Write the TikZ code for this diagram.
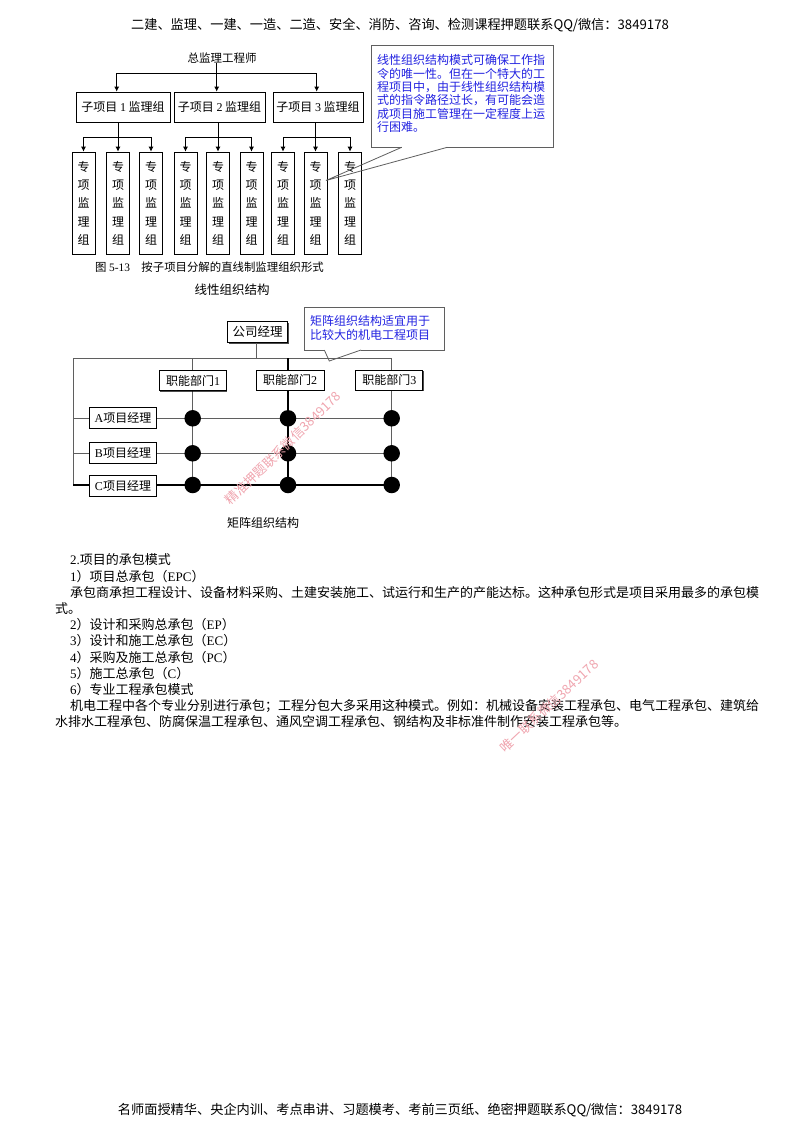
\documentclass[tikz,border=0pt]{standalone}
\usepackage{fontspec}
\setmainfont{Noto Sans CJK SC}
\newfontfamily\ser{Liberation Serif}
\newcommand\myl[1]{{\ser #1}}
\usetikzlibrary{arrows.meta,shadows}
\definecolor{cblue}{RGB}{35,35,225}
\definecolor{wmc}{RGB}{240,165,175}
\definecolor{lgray}{RGB}{95,95,95}
\begin{document}
\begin{tikzpicture}[x=1pt,y=-1pt,
  box/.style={draw=black,line width=0.7pt,fill=white,inner sep=0pt,
    font=\fontsize{12}{14}\selectfont,
    drop shadow={shadow xshift=0.8pt,shadow yshift=-0.8pt,fill=black,opacity=0.7}},
  vbox/.style={box,minimum width=23pt,minimum height=102pt,align=center,
    font=\fontsize{12}{18.3}\selectfont},
  arr/.style={-{Latex[length=5pt,width=5pt]},line width=0.8pt},
  tl/.style={line width=0.8pt},
  ln/.style={line width=0.8pt,draw=lgray},
  thk/.style={line width=1.4pt,draw=black},
  dot/.style={circle,fill=black,minimum size=16.5pt,inner sep=0pt},
  call/.style={draw=lgray,line width=0.8pt},
  ctext/.style={text=cblue,inner sep=0pt,align=left,anchor=north west},
  para/.style={anchor=west,inner sep=0pt,font=\fontsize{13}{15}\selectfont},
  wm/.style={text=wmc,inner sep=0pt,font=\fontsize{13}{15}\selectfont}]
\path[use as bounding box,fill=white] (0,0) rectangle (800,1132);

% header / footer
\node[font=\fontsize{13.2}{16}\selectfont] (hdr) at (400,25) {二建、监理、一建、一造、二造、安全、消防、咨询、检测课程押题联系QQ/微信：3849178};
\node[font=\fontsize{13.2}{16}\selectfont] (ftr) at (400,1110) {名师面授精华、央企内训、考点串讲、习题模考、考前三页纸、绝密押题联系QQ/微信：3849178};

% ---------- tree ----------
\node[inner sep=0pt,font=\fontsize{11.5}{14}\selectfont] (zj) at (222,58) {总监理工程师};
\node[box,minimum width=94pt,minimum height=30pt] (sp1) at (123,107) {子项目 \myl{1} 监理组};
\node[box,minimum width=91pt,minimum height=30pt] (sp2) at (219.5,107) {子项目 \myl{2} 监理组};
\node[box,minimum width=90pt,minimum height=30pt] (sp3) at (318,107) {子项目 \myl{3} 监理组};

\coordinate (t1) at (116.7,73.3);
\coordinate (t2) at (216.7,73.3);
\coordinate (t3) at (316.7,73.3);
\draw[tl] (zj.south -| t2) -- (t2);
\draw[tl] (t1) -- (t3);
\foreach \n in {1,2,3} \draw[arr] (t\n) -- (t\n |- sp\n.north);

\node[vbox] (g1a) at (83.5,203) {专\\项\\监\\理\\组};
\node[vbox] (g1b) at (118,203) {专\\项\\监\\理\\组};
\node[vbox] (g1c) at (151,203) {专\\项\\监\\理\\组};
\node[vbox] (g2a) at (185.5,203) {专\\项\\监\\理\\组};
\node[vbox] (g2b) at (218,203) {专\\项\\监\\理\\组};
\node[vbox] (g2c) at (251.5,203) {专\\项\\监\\理\\组};
\node[vbox] (g3a) at (283,203) {专\\项\\监\\理\\组};
\node[vbox] (g3b) at (315.5,203) {专\\项\\监\\理\\组};
\node[vbox] (g3c) at (350,203) {专\\项\\监\\理\\组};

\path (g1b.north) ++(0,-14.5) coordinate (bg1);
\path (g2b.north) ++(0,-14.5) coordinate (bg2);
\path (g3b.north) ++(0,-14.5) coordinate (bg3);
\foreach \g in {1,2,3}{
  \draw[tl] (bg\g |- sp\g.south) -- (bg\g);
  \draw[tl] (g\g a.north |- bg\g) -- (g\g c.north |- bg\g);
  \foreach \s in {a,b,c} \draw[arr] (g\g\s.north |- bg\g) -- (g\g\s.north);
}

\node[inner sep=0pt,anchor=west,font=\fontsize{11.4}{13}\selectfont] (cap1) at (95,267) {图 \myl{5-13}\quad 按子项目分解的直线制监理组织形式};
\node[inner sep=0pt,font=\fontsize{12.5}{14}\selectfont] (cap2) at (232,290) {线性组织结构};

% callout 1
\fill[white] (371.7,45) rectangle (553.3,147.3);
\draw[call] (401.7,147.3) -- (371.7,147.3) -- (371.7,45) -- (553.3,45) -- (553.3,147.3) -- (447.3,147.3);
\coordinate (tip1) at (326,180.5);
\draw[call] (401.7,147.3) -- (tip1) -- (447.3,147.3);
\node[ctext,font=\fontsize{12}{13.35}\selectfont] (c1) at (377,54.5) {线性组织结构模式可确保工作指\\令的唯一性。但在一个特大的工\\程项目中，由于线性组织结构模\\式的指令路径过长，有可能会造\\成项目施工管理在一定程度上运\\行困难。};

% ---------- matrix ----------
\coordinate (mtl) at (73.3,358);
\coordinate (x1) at (192.7,358);
\coordinate (x2) at (288,358);
\coordinate (x3) at (391.7,358);
\coordinate (ya) at (73.3,418.3);
\coordinate (yb) at (73.3,453.3);
\coordinate (yc) at (73.3,485);

\node[box,minimum width=60pt,minimum height=21pt,font=\fontsize{12.5}{14}\selectfont] (gm) at (257.7,332.2) {公司经理};
\draw[ln] (256.7,343) -- (256.7,358);
\draw[ln] (mtl) -- (x3);
\draw[ln] (mtl) -- (yc);
\draw[ln] (x1) -- (x1 |- yc);
\draw[thk] (x2) -- (x2 |- yc);
\draw[ln] (x3) -- (x3 |- yc);
\draw[ln] (ya) -- (ya -| x3);
\draw[ln] (yb) -- (yb -| x3);
\draw[thk] (yc) -- (yc -| x3);

\node[box,minimum width=67pt,minimum height=20pt] (d1) at (193,380.7) {职能部门\myl{1}};
\node[box,minimum width=68pt,minimum height=20pt] (d2) at (290,380) {职能部门\myl{2}};
\node[box,minimum width=67pt,minimum height=20pt] (d3) at (389.3,380) {职能部门\myl{3}};
\node[box,minimum width=67pt,minimum height=21pt] (pa) at (123,417.8) {\myl{A}项目经理};
\node[box,minimum width=67pt,minimum height=21pt] (pb) at (123,453) {\myl{B}项目经理};
\node[box,minimum width=67pt,minimum height=21pt] (pc) at (123,486) {\myl{C}项目经理};

\foreach \r in {a,b,c}{
  \foreach \c in {1,2,3}{
    \node[dot] (dot\r\c) at (x\c |- y\r) {};
  }
}

\node[inner sep=0pt,font=\fontsize{12}{14}\selectfont] (cap3) at (263,522.7) {矩阵组织结构};

% callout 2
\fill[white] (304.3,307.3) rectangle (444.3,350);
\draw[call] (324.3,350) -- (304.3,350) -- (304.3,307.3) -- (444.3,307.3) -- (444.3,350) -- (361,350);
\coordinate (tip2) at (329.3,361);
\draw[call] (324.3,350) -- (tip2) -- (361,350);
\node[ctext,font=\fontsize{12}{14.3}\selectfont] (c2) at (310,315) {矩阵组织结构适宜用于\\比较大的机电工程项目};

% ---------- text ----------
\node[para] (p1) at (70,560) {\myl{2.}项目的承包模式};
\node[para] (p2) at (70,576.2) {\myl{1}）项目总承包（\myl{EPC}）};
\node[para] (p3) at (70,592.4) {承包商承担工程设计、设备材料采购、土建安装施工、试运行和生产的产能达标。这种承包形式是项目采用最多的承包模};
\node[para] (p4) at (55,608.6) {式。};
\node[para] (p5) at (70,624.8) {\myl{2}）设计和采购总承包（\myl{EP}）};
\node[para] (p6) at (70,641) {\myl{3}）设计和施工总承包（\myl{EC}）};
\node[para] (p7) at (70,657.2) {\myl{4}）采购及施工总承包（\myl{PC}）};
\node[para] (p8) at (70,673.4) {\myl{5}）施工总承包（\myl{C}）};
\node[para] (p9) at (70,689.6) {\myl{6}）专业工程承包模式};
\node[para] (p10) at (70,705.8) {机电工程中各个专业分别进行承包；工程分包大多采用这种模式。例如：机械设备安装工程承包、电气工程承包、建筑给};
\node[para] (p11) at (55,722) {水排水工程承包、防腐保温工程承包、通风空调工程承包、钢结构及非标准件制作安装工程承包等。};

% watermarks
\node[wm,rotate=44] (wm1) at (283,448) {精准押题联系微信3849178};
\node[wm,rotate=43] (wm2) at (549,706) {唯一联系微信3849178};
\end{tikzpicture}
\end{document}
